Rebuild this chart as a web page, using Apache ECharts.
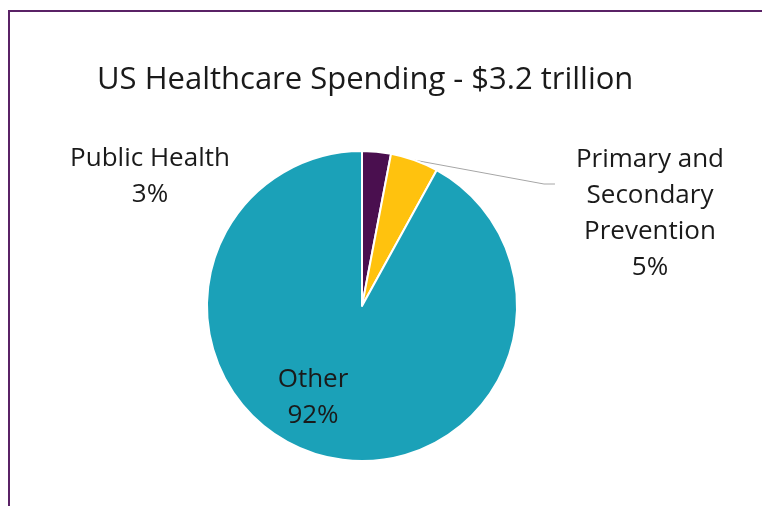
<!DOCTYPE html>
<html>
<head>
<meta charset="utf-8">
<script src="https://cdn.jsdelivr.net/npm/echarts@6/dist/echarts.min.js"></script>
<style>
  html, body { margin: 0; padding: 0; background: #fff; }
  #chart { width: 762px; height: 506px; }
</style>
</head>
<body>
<div id="chart"></div>
<script>
  // data
  var names = ['Public Health', 'Primary and\nSecondary\nPrevention', 'Other'];
  var values = [3, 5, 92];
  var colors = ['#4a0f4f', '#ffc20e', '#1ba1b8'];

  // where each label sits (centre of the text block)
  var labelPos = [[150, 177], [650, 214], [313, 398]];

  var myChart = echarts.init(document.getElementById('chart'));
  var option = {
    animation: false,
    title: {
      text: 'US Healthcare Spending - $3.2 trillion',
      left: 92,
      top: 60,
      textStyle: {
        fontFamily: 'Open Sans',
        fontSize: 31,
        fontWeight: 'normal',
        color: '#1a1a1a'
      }
    },
    graphic: [{
      type: 'rect',
      shape: { x: 9, y: 11, width: 900, height: 700 },
      style: { fill: 'none', stroke: '#5a2266', lineWidth: 2 },
      silent: true
    }],
    series: [{
      type: 'pie',
      center: [362, 306],
      radius: [0, 155],
      startAngle: 90,
      clockwise: true,
      data: names.map(function (n, i) {
        return {
          name: n,
          value: values[i],
          itemStyle: { color: colors[i] },
          labelLine: { show: i === 1 }
        };
      }),
      itemStyle: { borderColor: '#fff', borderWidth: 2 },
      label: {
        show: true,
        formatter: '{b}\n{d}%',
        fontFamily: 'Open Sans',
        fontSize: 26,
        lineHeight: 36,
        color: '#1a1a1a',
        align: 'center'
      },
      labelLine: {
        show: true,
        lineStyle: { color: '#a6a6a6', width: 1 }
      },
      labelLayout: function (params) {
        var p = labelPos[params.dataIndex];
        var out = {
          x: p[0],
          y: p[1],
          align: 'center',
          verticalAlign: 'middle'
        };
        if (params.dataIndex === 1 && params.labelLinePoints) {
          // keep the start at the arc middle, end just left of the text
          var s = params.labelLinePoints[0];
          var left = p[0] - params.labelRect.width / 2;
          var ly = p[1] - 30;
          out.labelLinePoints = [[s[0], s[1]], [left - 32, ly], [left - 21, ly]];
        }
        return out;
      }
    }]
  };
  myChart.setOption(option);
</script>
</body>
</html>
